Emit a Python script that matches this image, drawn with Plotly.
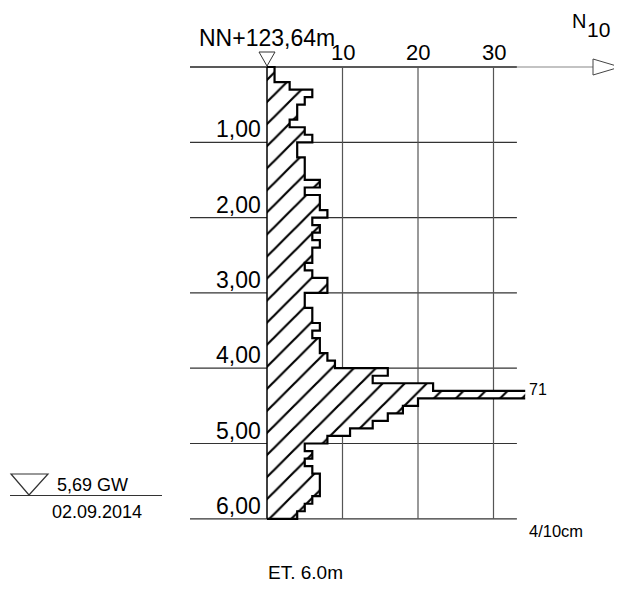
import plotly.graph_objects as go

# ---------------- data ----------------
DEPTH_STEP = 0.1  # m per blow-count interval
N10 = [1, 1, 3, 6, 5, 4, 4, 3, 5, 6,
       4, 4, 5, 5, 5, 7, 5, 7, 7, 8,
       6, 7, 6, 7, 6, 6, 5, 6, 8, 8,
       5, 5, 6, 6, 7, 6, 7, 7, 8, 9,
       16, 14, 22, 71, 20, 18, 16, 14, 11, 8,
       5, 6, 5, 6, 7, 7, 7, 6, 5, 4]
X_TICKS = [10, 20, 30]
DEPTH_TICKS = [1, 2, 3, 4, 5, 6]
DEPTH_LABELS = ["1,00", "2,00", "3,00", "4,00", "5,00", "6,00"]
X_CLIP = 34.2          # drawing limit of the N10 scale
GRID_X_MAX = 33.1
GW_DEPTH_LABEL = "5,69 GW"
GW_DATE = "02.09.2014"
TOP_LABEL = "NN+123,64m"
END_LABEL = "ET. 6.0m"

# ---------------- geometry (page pixels) ----------------
W, H = 622, 597
OFF = 8                      # default body margin of the html page
FW, FH = W - OFF, H - OFF    # figure size
X0_PX, PX_PER_UNIT = 267.0, 7.55
D0_PX, PX_PER_M = 67.0, 75.3

def X(px):
    return (px - X0_PX) / PX_PER_UNIT

def D(py):
    return (py - D0_PX) / PX_PER_M

FONT = "Liberation Sans, Arial, sans-serif"

# ---------------- build profile ----------------
fill_x, fill_y = [0], [0]
out_x, out_y = [0], [0]
for i, v in enumerate(N10):
    d0, d1 = i * DEPTH_STEP, (i + 1) * DEPTH_STEP
    xv = min(v, X_CLIP)
    fill_x += [xv, xv]
    fill_y += [d0, d1]
    if v > X_CLIP:
        out_x += [xv, None, xv]
        out_y += [d0, None, d1]
    else:
        out_x += [xv, xv]
        out_y += [d0, d1]
total = len(N10) * DEPTH_STEP
fill_x += [0, 0]
fill_y += [total, 0]
out_x += [0]
out_y += [total]

fig = go.Figure()
fig.add_trace(go.Scatter(
    x=fill_x, y=fill_y, mode="lines", fill="toself",
    line=dict(width=0, color="rgba(0,0,0,0)"),
    fillcolor="rgba(255,255,255,0)",
    fillpattern=dict(shape="/", size=15.6, solidity=0.14,
                     fgcolor="black", bgcolor="white", fgopacity=1),
    hoverinfo="skip", showlegend=False))
fig.add_trace(go.Scatter(
    x=out_x, y=out_y, mode="lines",
    line=dict(width=2.2, color="black"),
    connectgaps=False, hoverinfo="skip", showlegend=False))

shapes = []
for d in DEPTH_TICKS:
    shapes.append(dict(type="line", xref="x", yref="y", x0=X(190), x1=GRID_X_MAX,
                       y0=d, y1=d, line=dict(color="#333", width=1.2), layer="below"))
shapes.append(dict(type="line", xref="x", yref="y", x0=X(190), x1=GRID_X_MAX,
                   y0=0, y1=0, line=dict(color="#222", width=1.5), layer="below"))
shapes.append(dict(type="line", xref="x", yref="y", x0=GRID_X_MAX, x1=X(593),
                   y0=0, y1=0, line=dict(color="#888", width=1.2), layer="below"))
shapes.append(dict(type="path", xref="x", yref="y",
                   path=f"M{X(593)},{D(59)} L{X(620)},{D(67)} L{X(593)},{D(75)} Z",
                   line=dict(color="#444", width=1), fillcolor="white"))
for t in X_TICKS:
    shapes.append(dict(type="line", xref="x", yref="y", x0=t, x1=t, y0=0, y1=DEPTH_TICKS[-1],
                       line=dict(color="#555", width=1.2), layer="below"))
shapes.append(dict(type="line", xref="x", yref="y", x0=0, x1=0, y0=0, y1=DEPTH_TICKS[-1],
                   line=dict(color="black", width=1.5)))
shapes.append(dict(type="path", xref="x", yref="y",
                   path=f"M{X(259)},{D(52)} L{X(275)},{D(52)} L{X(267)},{D(66)} Z",
                   line=dict(color="#333", width=1), fillcolor="white"))
shapes.append(dict(type="path", xref="x", yref="y",
                   path=f"M{X(11)},{D(474)} L{X(48)},{D(474)} L{X(29)},{D(495)} Z",
                   line=dict(color="#333", width=1.2), fillcolor="white"))
shapes.append(dict(type="line", xref="x", yref="y", x0=X(10), x1=X(162),
                   y0=D(495.5), y1=D(495.5), line=dict(color="#333", width=1.2)))

ann = []
def text(t, px, py, size, xanchor="center"):
    ann.append(dict(text=t, x=X(px), y=D(py), xref="x", yref="y", showarrow=False,
                    xanchor=xanchor, yanchor="middle",
                    font=dict(family=FONT, size=size, color="black")))

text(TOP_LABEL, 267, 38, 23)
for t in X_TICKS:
    text(str(t), X0_PX + t * PX_PER_UNIT, 52, 22)
for d, lab in zip(DEPTH_TICKS, DEPTH_LABELS):
    text(lab, 263, D0_PX + d * PX_PER_M - 13, 23, xanchor="right")
text("N", 579, 21, 20)
text("10", 598, 29, 21)
text(str(max(N10)), 538, 389, 16)
text("4/10cm", 556, 531, 16.5)
text(GW_DEPTH_LABEL, 92, 485, 18)
text(GW_DATE, 97, 512, 18)
text(END_LABEL, 305, 572, 19)

fig.update_layout(
    width=FW, height=FH, margin=dict(l=0, r=0, t=0, b=0),
    paper_bgcolor="white", plot_bgcolor="white",
    xaxis=dict(range=[X(OFF), X(W)], visible=False, fixedrange=True),
    yaxis=dict(range=[D(H), D(OFF)], visible=False, fixedrange=True),
    shapes=shapes, annotations=ann, showlegend=False)

fig.write_html("out.html", config=dict(displayModeBar=False))
